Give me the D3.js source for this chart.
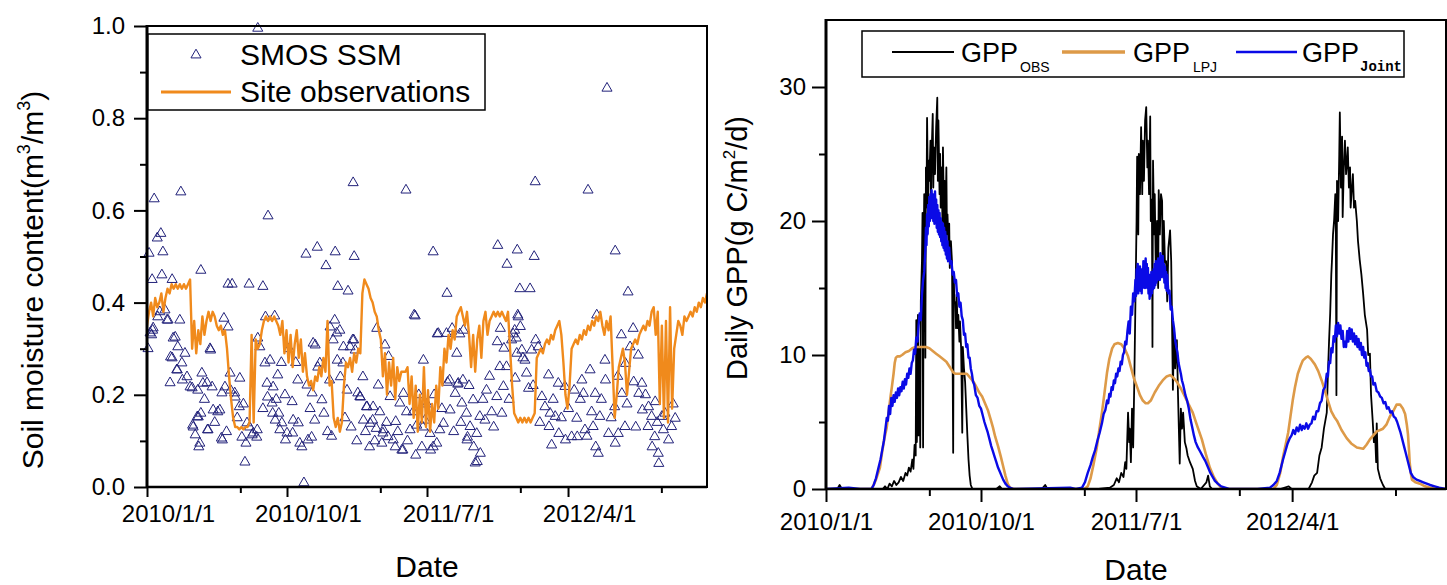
<!DOCTYPE html>
<html>
<head>
<meta charset="utf-8">
<script src="https://cdn.jsdelivr.net/npm/d3@7/dist/d3.min.js"></script>
<style>
	body { margin: 0; background: #fff; }
	text { font-family: "Liberation Sans", Arial, sans-serif; fill: #000; }
</style>
</head>
<body>
<svg id="chart" width="1447" height="585"></svg>
<script>

// ---- data (days are counted from 2010/1/1) ----
var startDate = new Date(2010, 0, 1);
var spanDays = 1092;
var tickLabels = [ "2010/1/1", "2010/10/1", "2011/7/1", "2012/4/1" ];
var minorOffsetDays = 182;

// site observations, one value every 4 days
var siteStepDays = 4;
var siteObs = [
	0.35,0.38,0.40,0.37,0.41,0.39,0.40,0.42,0.38,0.41,0.43,
	0.42,0.44,0.43,0.44,0.43,0.44,0.43,0.44,0.43,0.44,0.45,
	0.30,0.36,0.29,0.34,0.31,0.37,0.33,0.36,0.38,0.36,
	0.38,0.37,0.35,0.34,0.35,0.33,0.34,0.30,
	0.24,0.19,0.15,0.13,0.13,0.125,0.13,0.125,0.13,0.13,0.14,
	0.33,0.14,0.32,0.30,0.31,0.34,
	0.36,0.37,0.36,0.37,0.36,0.37,0.36,0.35,0.33,0.36,
	0.29,0.34,0.27,0.33,0.26,0.31,0.34,0.28,0.32,0.25,0.29,0.24,0.22,0.23,
	0.21,0.24,0.23,0.26,0.24,0.28,0.25,0.36,0.22,0.23,
	0.15,0.13,0.15,0.12,0.14,0.22,0.27,0.26,
	0.28,0.25,0.29,0.27,0.30,0.29,0.42,
	0.45,0.44,0.43,0.41,0.40,0.38,0.37,0.34,0.32,
	0.24,0.29,0.20,0.27,0.22,0.28,0.19,0.26,0.23,0.25,0.25,0.25,
	0.26,0.18,0.24,0.15,0.22,0.12,0.20,0.14,0.26,0.13,0.21,0.12,0.18,0.14,
	0.22,0.17,0.26,0.22,0.30,0.27,0.33,0.30,0.34,
	0.32,0.37,0.38,0.39,0.37,0.35,0.38,0.33,0.26,0.33,
	0.25,0.32,0.35,0.28,0.36,0.38,0.33,0.36,0.37,0.38,
	0.37,0.38,0.37,0.38,0.37,0.36,0.38,0.30,0.22,
	0.16,0.15,0.14,0.15,0.14,0.15,0.14,0.15,0.14,0.15,0.16,
	0.28,0.29,0.30,0.29,0.31,0.32,0.31,0.33,0.32,0.34,0.35,0.36,
	0.33,0.27,0.20,0.17,
	0.22,0.30,0.31,0.32,0.31,0.33,0.32,0.34,0.33,0.35,0.34,0.36,0.35,0.37,0.36,0.38,0.35,
	0.33,0.36,0.34,0.37,0.26,0.15,
	0.20,0.26,0.28,0.30,0.27,0.20,0.25,0.30,
	0.31,0.32,0.31,0.33,0.34,0.35,0.34,0.36,0.35,0.38,
	0.39,0.33,0.38,0.18,0.35,0.15,0.36,0.14,0.39,0.17,0.30,0.33,0.36,
	0.35,0.33,0.37,0.36,0.37,0.38,0.37,0.39,0.38,0.40,0.39,0.41,0.40,0.42,0.41
];

// SMOS SSM retrievals [day, value]
var smosSSM = [
	[216,0.995],[14,0.625],[66,0.64],[236,0.588],[402,0.66],[505,0.644],[20,0.54],[27,0.55],[31,0.51],[4,0.507],
	[105,0.47],[310,0.505],[332,0.52],[349,0.48],[367,0.51],[404,0.50],[558,0.51],[585,0.42],[10,0.45],[29,0.46],
	[49,0.45],[158,0.44],[166,0.44],[199,0.44],[226,0.435],[372,0.435],[392,0.425],[897,0.865],[757,0.662],[860,0.644],
	[684,0.524],[722,0.514],[702,0.483],[755,0.50],[913,0.512],[727,0.43],[747,0.43],[938,0.423],[521,0.373],
	[21,0.369],[35,0.384],[41,0.362],[64,0.362],[11,0.34],[6,0.334],[2,0.30],[150,0.366],[158,0.347],[55,0.325],
	[60,0.304],[74,0.29],[49,0.28],[68,0.269],[58,0.254],[78,0.239],[45,0.226],[88,0.215],[107,0.247],[117,0.226],
	[99,0.21],[127,0.217],[123,0.30],[152,0.217],[146,0.204],[172,0.195],[181,0.236],[129,0.167],[138,0.163],[100,0.152],
	[89,0.134],[94,0.113],[101,0.087],[118,0.124],[147,0.102],[191,0.054],[185,0.108],[205,0.113],[215,0.124],[193,0.095],
	[216,0.323],[220,0.304],[230,0.269],[240,0.275],[234,0.225],[246,0.217],[255,0.243],[244,0.182],[257,0.16],[269,0.20],
	[283,0.185],[294,0.232],[312,0.221],[322,0.204],[333,0.26],[328,0.308],[250,0.145],[259,0.124],[270,0.102],[284,0.117],
	[295,0.139],[302,0.087],[314,0.102],[327,0.145],[341,0.189],[357,0.347],[306,0.009],[231,0.369],[249,0.371],
	[523,0.371],[366,0.362],[370,0.334],[376,0.34],[363,0.319],[401,0.319],[396,0.304],[406,0.297],[382,0.269],[377,0.239],
	[390,0.21],[421,0.239],[411,0.204],[448,0.344],[464,0.308],[471,0.283],[451,0.221],[474,0.196],[415,0.196],[428,0.174],
	[441,0.174],[454,0.163],[422,0.145],[435,0.138],[447,0.127],[461,0.124],[470,0.109],[434,0.087],[458,0.095],[484,0.087],
	[497,0.080],[524,0.069],[513,0.124],[506,0.163],[500,0.203],[493,0.182],[485,0.142],[526,0.134],[542,0.145],[552,0.116],
	[565,0.095],[536,0.087],[553,0.080],[571,0.124],[578,0.138],[591,0.167],[601,0.203],[607,0.225],[614,0.182],[623,0.160],
	[636,0.189],[649,0.153],[630,0.131],[643,0.116],[624,0.102],[637,0.087],[650,0.073],[644,0.055],[659,0.145],[672,0.163],
	[682,0.196],[695,0.218],[688,0.261],[701,0.261],[662,0.210],[718,0.236],[721,0.29],[711,0.319],[717,0.34],[683,0.315],
	[696,0.301],[584,0.333],[568,0.333],[539,0.275],[519,0.163],[604,0.29],[617,0.34],
	[877,0.373],[724,0.369],[728,0.348],[720,0.323],[731,0.297],[758,0.319],[763,0.304],[750,0.297],[737,0.275],[740,0.247],
	[744,0.214],[783,0.243],[802,0.225],[815,0.218],[770,0.196],[776,0.174],[786,0.160],[796,0.153],[784,0.131],[803,0.116],
	[816,0.102],[828,0.109],[789,0.091],[838,0.149],[851,0.203],[848,0.232],[864,0.254],[893,0.275],[894,0.232],[874,0.203],
	[867,0.163],[883,0.153],[854,0.124],[870,0.131],[839,0.109],[880,0.073],[875,0.087],[900,0.116],[913,0.095],[919,0.116],
	[932,0.131],[912,0.174],[926,0.203],[933,0.268],[925,0.33],[948,0.344],[958,0.286],[942,0.304],[949,0.228],[965,0.225],
	[959,0.203],[966,0.167],[978,0.174],[984,0.153],[991,0.185],[1004,0.153],[977,0.131],[990,0.109],[1007,0.124],[985,0.087],
	[997,0.073],[998,0.051],[1023,0.131],[1030,0.149],[1017,0.102],
	[12,0.345],[9,0.33],[25,0.38],[39,0.362],[51,0.323],[46,0.282],[59,0.254],[69,0.232],[84,0.217],[90,0.13],
	[103,0.095],[119,0.124],[145,0.106],[98,0.152],[109,0.225],[124,0.297],[142,0.167],[162,0.247],[171,0.204],[180,0.174],
	[195,0.139],[207,0.117],[214,0.108],[235,0.195],[245,0.16],[263,0.139],[273,0.117],[285,0.145],[298,0.095],[321,0.108],
	[324,0.312],[337,0.269],[356,0.232],[371,0.275],[383,0.304],[403,0.319],[416,0.195],[429,0.174],[440,0.145],[460,0.117],
	[480,0.102],[499,0.08],[538,0.13],[558,0.087],[590,0.232],[616,0.232],[625,0.108],[640,0.052],
	[566,0.332],[595,0.344],[610,0.332],[586,0.227],[606,0.223],[689,0.344],[723,0.373],[714,0.332],[733,0.28],
	[105,0.16],[112,0.19],[132,0.14],[155,0.12],[163,0.21],[176,0.15],[188,0.18],[200,0.13],[226,0.17],[252,0.19],
	[262,0.27],[277,0.30],[290,0.27],[318,0.17],[345,0.16],[352,0.12],[360,0.11],[386,0.15],[398,0.13],[409,0.10],
	[426,0.12],[444,0.10],[467,0.14],[489,0.12],[508,0.10],[530,0.20],[546,0.18],[560,0.20],[575,0.17],[598,0.12],
	[612,0.14],[628,0.22],[655,0.19],[668,0.24],[676,0.13],[692,0.16],[706,0.19],[753,0.22],[766,0.14],[792,0.19],
	[808,0.15],[822,0.17],[833,0.21],[845,0.19],[858,0.11],[886,0.19],[905,0.15],[918,0.24],[936,0.18],[953,0.13],
	[972,0.20],[995,0.14],[1010,0.16],[1026,0.18]
];

// GPP observed [day, value]
var gppObs = [
	[0,0],[20,0],[24,0.3],[28,0],[100,0],[104,0.2],[108,0],[112,0.4],[116,0.2],[120,0.6],[124,0.3],[128,0.5],
	[132,0.9],[136,0.6],[140,1.2],[143,1.0],[146,1.6],[149,1.3],[152,2.2],[154,1.5],[156,3.3],[158,2.5],[159,12.6],
	[160,3.5],[161,6.0],[162,13.0],[163,4.0],[165,10.5],[166,3.1],[167,14.0],[169,17.0],[170,20.6],[171,3.1],[172,18.0],
	[173,22.0],[174,19.0],[175,9.8],[176,24.0],[177,21.0],[178,27.7],[180,21.0],[181,24.5],[182,23.0],[184,26.0],
	[185,21.5],[186,25.0],[188,28.0],[189,22.5],[190,25.5],[192,23.5],[194,27.0],[196,29.2],[197,23.0],[198,27.5],
	[200,22.0],[201,25.0],[202,21.0],[204,24.0],[205,20.0],[206,25.5],[208,19.5],[209,23.0],[210,18.5],[212,24.0],
	[213,19.0],[214,20.5],[216,18.0],[217,19.8],[218,16.5],[220,18.5],[222,16.9],[224,2.7],[225,16.0],[226,14.0],
	[228,13.9],[229,12.0],[230,14.5],[232,12.0],[233,13.0],[235,11.0],[236,12.5],[238,10.5],[240,4.2],[241,10.6],
	[243,9.0],[245,8.0],[247,6.0],[249,4.0],[251,2.2],[253,1.0],[255,0.3],[258,0],[300,0],[306,0.2],[310,0],
	[380,0],[386,0.3],[390,0],[480,0],[500,0.1],[507,0.3],[512,0.8],[516,0.5],[520,1.2],[524,0.9],[527,2.0],[529,1.5],
	[532,5.7],[534,3.5],[535,4.5],[537,2.0],[539,6.0],[541,3.1],[543,8.0],[545,14.0],[547,20.0],[548,24.8],[550,19.0],
	[551,25.0],[553,22.0],[555,27.0],[557,22.0],[558,26.0],[560,23.0],[562,27.5],[564,28.5],[566,24.0],[567,26.0],
	[569,22.0],[571,27.8],[572,20.0],[574,21.6],[575,10.6],[576,24.5],[578,19.0],[579,22.0],[581,16.0],[583,20.0],
	[585,15.0],[586,22.3],[588,19.0],[590,22.0],[592,21.5],[593,16.0],[595,20.0],[597,16.9],[599,17.0],[601,14.0],
	[603,18.0],[606,19.3],[608,17.0],[609,14.0],[611,7.4],[613,12.0],[615,9.0],[618,11.1],[620,7.0],[623,1.9],
	[625,6.0],[627,4.5],[629,5.7],[632,3.5],[635,3.0],[637,2.5],[641,2.0],[646,1.5],[650,0.6],[653,0.2],[660,0],
	[670,0.5],[673,1.0],[676,0.2],[680,0],[800,0],[815,0.2],[820,0],[850,0],[856,0.5],[860,1.0],[865,1.2],[869,2.5],
	[873,3.1],[877,4.5],[882,5.7],[884,8.6],[886,11.0],[888,13.1],[890,16.0],[891,16.9],[893,19.0],[895,20.1],
	[897,22.0],[898,19.0],[899,7.0],[900,23.0],[902,20.0],[904,25.0],[905,28.1],[907,22.5],[909,26.3],[910,20.3],
	[912,24.0],[914,26.0],[916,23.5],[917,24.0],[919,25.5],[921,22.5],[923,24.0],[924,21.0],[926,22.3],[928,23.5],
	[930,21.0],[932,21.5],[935,20.0],[937,18.5],[940,17.1],[943,16.0],[946,14.6],[949,13.0],[953,11.9],[955,10.0],
	[958,10.1],[960,7.0],[963,5.0],[965,3.5],[967,4.2],[969,2.0],[970,4.9],[972,1.5],[976,0.8],[981,0.3],[985,0],[1092,0]
];

// GPP from LPJ [day, value]
var gppLpj = [
	[0,0],[80,0],[84,0.3],[88,0.7],[92,1.2],[95,1.6],[99,2.8],[103,3.8],[107,4.6],[111,6.0],[114,7.0],[116,7.6],
	[119,8.6],[121,9.4],[123,9.8],[126,9.9],[130,9.9],[134,10.0],[140,10.2],[146,10.3],[152,10.5],[158,10.6],
	[164,10.6],[170,10.6],[176,10.6],[182,10.5],[188,10.3],[194,10.1],[200,9.9],[206,9.7],[212,9.5],[218,9.1],
	[224,8.7],[228,8.6],[232,8.6],[238,8.6],[244,8.6],[248,8.6],[252,8.4],[256,8.2],[260,8.0],[265,7.6],[270,7.2],
	[275,6.9],[280,6.4],[285,5.9],[290,5.2],[294,4.6],[298,3.9],[303,3.2],[308,2.4],[312,1.7],[316,1.0],[320,0.4],
	[324,0.1],[330,0],[455,0],[461,0.2],[466,0.8],[471,1.8],[477,3.1],[481,4.3],[486,5.7],[490,7.0],[495,8.7],
	[499,9.7],[504,10.5],[508,10.8],[514,10.9],[520,10.8],[527,10.4],[532,9.9],[537,9.1],[542,8.3],[548,7.6],
	[553,7.0],[558,6.6],[563,6.4],[567,6.4],[572,6.6],[579,7.2],[586,7.7],[593,8.1],[600,8.4],[606,8.5],[612,8.3],
	[618,8.0],[625,7.5],[632,6.9],[639,6.3],[646,5.7],[653,4.8],[662,3.7],[669,2.6],[676,1.6],[683,0.9],[690,0.4],
	[696,0.1],[700,0],[788,0],[794,0.3],[800,1.2],[805,2.4],[810,3.4],[814,4.2],[818,5.4],[822,6.6],[826,7.6],
	[831,8.6],[836,9.2],[840,9.6],[845,9.8],[849,9.9],[854,9.7],[861,9.3],[867,8.8],[873,8.1],[879,7.3],[884,6.6],
	[890,5.8],[895,5.4],[900,5.1],[908,4.4],[917,3.8],[925,3.4],[935,3.1],[946,3.0],[952,3.3],[958,3.7],[964,4.0],
	[970,4.3],[976,4.4],[981,4.5],[987,4.8],[993,5.4],[999,5.8],[1005,6.3],[1011,6.3],[1016,6.0],[1020,5.6],
	[1023,4.8],[1025,4.1],[1027,2.8],[1028,2.0],[1030,1.2],[1032,0.7],[1038,0.5],[1046,0.4],[1055,0.2],[1064,0.1],
	[1075,0],[1092,0]
];

// GPP from joint assimilation [day, value]
var gppJoint = [
	[0,0],[40,0.1],[60,0],[80,0],[84,0.3],[88,0.8],[92,1.5],[96,2.2],[99,2.9],[102,3.6],[105,4.6],[107,5.3],[109,5.1],
	[111,6.2],[113,5.6],[115,6.8],[117,6.2],[119,7.0],[121,6.5],[123,7.2],[125,6.8],[127,7.5],[129,7.0],[131,7.6],
	[133,7.3],[135,8.0],[137,7.5],[139,8.2],[141,7.8],[143,8.6],[145,8.3],[147,9.0],[149,8.6],[151,9.4],[153,9.6],
	[155,10.4],[157,10.1],[159,11.3],[161,11.0],[163,12.2],[165,13.1],[167,12.6],[169,14.5],[171,15.6],[173,16.2],
	[175,17.8],[176,19.5],[177,18.2],[178,20.5],[179,19.0],[180,21.2],[181,19.6],[182,21.8],[183,20.0],[184,22.0],
	[185,20.2],[186,22.3],[187,20.4],[188,22.0],[189,20.0],[190,21.8],[191,19.8],[192,22.2],[193,20.0],[194,21.6],
	[195,19.5],[196,21.2],[197,19.2],[198,20.8],[199,19.0],[200,20.6],[201,18.8],[202,20.2],[203,18.5],[204,19.9],
	[205,18.2],[206,19.8],[207,18.0],[208,19.5],[209,17.8],[210,19.2],[211,17.5],[212,18.9],[213,17.2],[214,18.5],
	[215,17.0],[217,18.0],[219,16.8],[221,17.0],[223,16.0],[225,16.2],[227,15.4],[229,15.6],[231,14.4],[233,14.6],
	[235,13.6],[237,13.9],[239,12.9],[241,12.6],[243,11.5],[245,11.6],[247,10.6],[249,10.8],[251,9.8],[253,9.8],
	[255,9.0],[257,8.6],[259,8.0],[261,7.8],[264,7.0],[267,6.8],[270,6.2],[273,6.0],[276,5.5],[279,5.0],[282,4.6],
	[285,4.2],[288,3.7],[291,3.2],[294,2.8],[297,2.4],[300,2.0],[303,1.6],[306,1.3],[309,1.0],[312,0.7],[316,0.4],
	[320,0.2],[324,0.1],[330,0],[430,0.1],[440,0],[451,0.1],[456,0.5],[461,1.2],[466,1.8],[470,2.4],[474,2.9],
	[478,3.6],[482,4.2],[486,4.9],[489,5.6],[492,5.9],[495,6.6],[497,6.4],[499,7.1],[501,6.9],[503,7.6],[505,7.4],
	[507,8.1],[509,7.9],[511,8.6],[513,8.4],[515,9.0],[517,8.8],[519,9.5],[521,9.3],[523,10.0],[525,10.2],[527,11.0],
	[529,10.8],[531,11.8],[533,12.5],[535,11.6],[537,13.6],[539,13.0],[541,14.6],[543,14.0],[545,15.6],[546,14.4],
	[547,16.4],[548,15.0],[549,16.8],[550,14.6],[551,16.2],[552,15.0],[553,16.6],[554,14.8],[555,16.0],[556,14.6],
	[557,16.4],[558,15.0],[559,17.0],[560,15.2],[561,16.6],[562,15.0],[563,17.2],[564,15.4],[565,16.8],[566,15.0],
	[567,16.5],[568,14.6],[569,16.0],[570,14.2],[571,15.8],[572,14.4],[573,16.2],[574,14.6],[575,16.0],[576,14.9],
	[577,16.4],[578,15.0],[579,16.8],[580,15.2],[581,17.0],[582,15.4],[583,16.8],[584,15.6],[585,17.2],[586,15.8],
	[587,16.6],[588,15.6],[589,17.6],[590,15.8],[591,17.0],[592,16.0],[593,17.4],[594,15.8],[595,16.8],[596,15.4],
	[597,16.6],[598,15.0],[599,16.2],[600,14.8],[601,16.0],[603,14.6],[605,14.8],[607,13.4],[609,13.6],[611,12.6],
	[613,12.0],[615,11.1],[617,10.6],[619,10.2],[621,9.4],[623,9.0],[625,8.6],[627,8.1],[629,7.8],[631,7.4],[633,7.0],
	[636,6.6],[639,6.0],[642,5.2],[645,4.6],[648,4.0],[651,3.5],[655,3.1],[659,2.8],[664,2.4],[668,2.1],[673,1.6],
	[677,1.2],[681,0.9],[685,0.6],[690,0.4],[696,0.2],[703,0.1],[710,0],[760,0],[782,0.1],[788,0.3],[794,0.6],
	[799,1.2],[805,2.2],[809,2.8],[813,3.4],[817,3.8],[820,4.0],[823,4.4],[826,4.1],[829,4.6],[832,4.3],[835,4.8],
	[838,4.4],[840,4.7],[843,4.5],[846,4.9],[849,4.5],[852,4.8],[855,4.9],[858,5.4],[861,5.2],[864,5.8],[867,5.8],
	[870,6.4],[873,6.6],[876,7.4],[879,7.6],[882,8.6],[884,8.4],[886,9.5],[888,9.4],[890,10.5],[892,10.2],[894,11.4],
	[896,11.0],[898,12.2],[900,11.4],[902,12.4],[904,11.6],[906,12.2],[908,11.2],[910,11.8],[912,10.6],[914,11.0],
	[916,10.6],[918,11.8],[920,11.0],[922,12.0],[924,11.2],[926,11.9],[928,11.0],[930,11.6],[932,10.8],[934,11.4],
	[936,10.6],[938,11.2],[940,10.4],[942,10.9],[944,10.0],[946,10.6],[948,9.8],[950,10.2],[952,9.2],[954,9.4],
	[956,8.8],[958,8.9],[960,8.4],[962,8.4],[964,7.8],[967,7.9],[970,7.3],[973,7.2],[976,6.9],[979,6.8],[982,6.4],
	[985,6.5],[988,6.0],[991,6.1],[994,5.7],[997,5.8],[1000,5.4],[1003,5.3],[1006,5.0],[1009,4.6],[1012,4.2],
	[1015,3.7],[1018,3.2],[1021,2.7],[1024,2.2],[1027,1.7],[1030,1.2],[1034,0.9],[1040,0.7],[1046,0.6],[1052,0.5],
	[1058,0.4],[1064,0.3],[1072,0.2],[1080,0.1],[1092,0]
];

// ---- drawing ----
var svg = d3.select("#chart");
var parseTick = d3.timeParse("%Y/%m/%d");
var dayToDate = function(d) {
	return d3.timeDay.offset(startDate, d);
};
var majorDates = tickLabels.map(function(t) {
	return parseTick(t);
});
var minorDates = majorDates.map(function(t) {
	return d3.timeDay.offset(t, minorOffsetDays);
});

var drawFrame = function(g, x0, y0, x1, y1) {
	g.append("rect").attr("x", x0).attr("y", y0).attr("width", x1 - x0).attr("height", y1 - y0)//
	.attr("fill", "none").attr("stroke", "#000").attr("stroke-width", 2);
	g.append("line").attr("x1", x0).attr("x2", x0).attr("y1", y0 - 1).attr("y2", y1 + 1)//
	.attr("stroke", "#000").attr("stroke-width", 3);
	g.append("line").attr("x1", x0).attr("x2", x1).attr("y1", y1).attr("y2", y1)//
	.attr("stroke", "#000").attr("stroke-width", 2.5);
};

var styleAxis = function(g, size) {
	g.select(".domain").remove();
	g.attr("font-size", size).attr("font-family", "Liberation Sans, Arial, sans-serif");
	g.selectAll(".tick line").attr("stroke-width", 2);
};

// ---------- left panel: soil moisture ----------
var L = { left: 147, right: 707, top: 26, bottom: 487 };
var xL = d3.scaleTime().domain([ startDate, dayToDate(spanDays) ]).range([ L.left, L.right ]);
var yL = d3.scaleLinear().domain([ 0, 1 ]).range([ L.bottom, L.top ]);

var left = svg.append("g");
left.append("clipPath").attr("id", "clipL").append("rect")//
.attr("x", L.left).attr("y", L.top).attr("width", L.right - L.left).attr("height", L.bottom - L.top);

var tri = d3.symbol().type(d3.symbolTriangle).size(44);
left.append("g").selectAll("path").data(smosSSM).enter().append("path")//
.attr("d", tri)//
.attr("transform", function(d) {
	return "translate(" + xL(dayToDate(d[0])) + "," + yL(d[1]) + ")";
})//
.attr("fill", "none").attr("stroke", "#22227a").attr("stroke-width", 1);

var siteLine = d3.line()//
.x(function(v, i) {
	return xL(dayToDate(i * siteStepDays));
})//
.y(function(v) {
	return yL(v);
});
left.append("path").datum(siteObs).attr("d", siteLine).attr("clip-path", "url(#clipL)")//
.attr("fill", "none").attr("stroke", "#f08a1c").attr("stroke-width", 2.4).attr("stroke-linejoin", "round");

var gxL = left.append("g").attr("transform", "translate(0," + L.bottom + ")")//
.call(d3.axisBottom(xL).tickValues(majorDates).tickFormat(function(d, i) {
	return tickLabels[i];
}).tickSize(10).tickPadding(8));
styleAxis(gxL, 24);
gxL.selectAll(".tick text").attr("x", 21);
var gxLm = left.append("g").attr("transform", "translate(0," + L.bottom + ")")//
.call(d3.axisBottom(xL).tickValues(minorDates).tickFormat("").tickSize(6));
styleAxis(gxLm, 24);

var gyL = left.append("g").attr("transform", "translate(" + L.left + ",0)")//
.call(d3.axisLeft(yL).tickValues([ 0, 0.2, 0.4, 0.6, 0.8, 1.0 ]).tickFormat(d3.format(".1f")).tickSize(13).tickPadding(9));
styleAxis(gyL, 24);
var gyLm = left.append("g").attr("transform", "translate(" + L.left + ",0)")//
.call(d3.axisLeft(yL).tickValues([ 0.1, 0.3, 0.5, 0.7, 0.9 ]).tickFormat("").tickSize(7));
styleAxis(gyLm, 24);

drawFrame(left, L.left, L.top, L.right, L.bottom);

// legend
var legL = left.append("g");
legL.append("rect").attr("x", 148).attr("y", 34).attr("width", 337).attr("height", 76)//
.attr("fill", "#fff").attr("stroke", "#000").attr("stroke-width", 1.5);
legL.append("path").attr("d", tri).attr("transform", "translate(196,55)")//
.attr("fill", "none").attr("stroke", "#22227a").attr("stroke-width", 1);
legL.append("text").attr("x", 240).attr("y", 65).attr("font-size", 30).text("SMOS SSM");
legL.append("line").attr("x1", 161).attr("x2", 231).attr("y1", 92).attr("y2", 92)//
.attr("stroke", "#f08a1c").attr("stroke-width", 3);
legL.append("text").attr("x", 240).attr("y", 102).attr("font-size", 30).text("Site observations");

// titles
var ytL = left.append("text").attr("transform", "translate(43,280) rotate(-90)")//
.attr("text-anchor", "middle").attr("font-size", 30);
ytL.append("tspan").text("Soil moisture content(m");
ytL.append("tspan").attr("font-size", 18).attr("dy", -13).text("3");
ytL.append("tspan").attr("dy", 13).text("/m");
ytL.append("tspan").attr("font-size", 18).attr("dy", -13).text("3");
ytL.append("tspan").attr("dy", 13).text(")");
left.append("text").attr("x", 427).attr("y", 577).attr("text-anchor", "middle").attr("font-size", 30).text("Date");

// ---------- right panel: GPP ----------
var R = { left: 826, right: 1446, top: 20, bottom: 489 };
var xR = d3.scaleTime().domain([ startDate, dayToDate(spanDays) ]).range([ R.left, R.right ]);
var yR = d3.scaleLinear().domain([ 0, 35 ]).range([ R.bottom, R.top ]);

var right = svg.append("g");
right.append("clipPath").attr("id", "clipR").append("rect")//
.attr("x", R.left).attr("y", R.top).attr("width", R.right - R.left).attr("height", R.bottom - R.top);

var gppLine = d3.line()//
.x(function(d) {
	return xR(dayToDate(d[0]));
})//
.y(function(d) {
	return yR(d[1]);
});
var series = [
	{ data: gppObs, color: "#000", width: 1.8 },
	{ data: gppLpj, color: "#dd9a48", width: 2.6 },
	{ data: gppJoint, color: "#0a0ae6", width: 2.4 }
];
right.append("g").attr("clip-path", "url(#clipR)").selectAll("path").data(series).enter().append("path")//
.attr("d", function(s) {
	return gppLine(s.data);
})//
.attr("fill", "none").attr("stroke", function(s) {
	return s.color;
}).attr("stroke-width", function(s) {
	return s.width;
}).attr("stroke-linejoin", "round");

var gxR = right.append("g").attr("transform", "translate(0," + R.bottom + ")")//
.call(d3.axisBottom(xR).tickValues(majorDates).tickFormat(function(d, i) {
	return tickLabels[i];
}).tickSize(13).tickPadding(11));
styleAxis(gxR, 24);
var gxRm = right.append("g").attr("transform", "translate(0," + R.bottom + ")")//
.call(d3.axisBottom(xR).tickValues(minorDates).tickFormat("").tickSize(7));
styleAxis(gxRm, 24);

var gyR = right.append("g").attr("transform", "translate(" + R.left + ",0)")//
.call(d3.axisLeft(yR).tickValues([ 0, 10, 20, 30 ]).tickSize(14).tickPadding(6));
styleAxis(gyR, 24);
var gyRm = right.append("g").attr("transform", "translate(" + R.left + ",0)")//
.call(d3.axisLeft(yR).tickValues([ 5, 15, 25 ]).tickFormat("").tickSize(7));
styleAxis(gyRm, 24);

drawFrame(right, R.left, R.top, R.right, R.bottom);

// legend
var legR = right.append("g");
legR.append("rect").attr("x", 862).attr("y", 31).attr("width", 542).attr("height", 46)//
.attr("fill", "#fff").attr("stroke", "#000").attr("stroke-width", 1.5);
var legItems = [
	{ x1: 892, x2: 954, tx: 961, sx: 1020, sub: "OBS", color: "#000", width: 2 },
	{ x1: 1062, x2: 1125, tx: 1133, sx: 1193, sub: "LPJ", color: "#dd9a48", width: 3.5 },
	{ x1: 1236, x2: 1297, tx: 1302, sx: 1360, sub: "Joint", color: "#0a0ae6", width: 2.5 }
];
legItems.forEach(function(it) {
	legR.append("line").attr("x1", it.x1).attr("x2", it.x2).attr("y1", 52).attr("y2", 52)//
	.attr("stroke", it.color).attr("stroke-width", it.width);
	legR.append("text").attr("x", it.tx).attr("y", 62).attr("font-size", 27).text("GPP");
	var sub = legR.append("text").attr("x", it.sx).attr("y", it.sub == "Joint" ? 71 : 72).text(it.sub);
	if (it.sub == "Joint") {
		sub.attr("font-size", 14).attr("font-weight", "bold").style("font-family", "Liberation Mono, Courier New, monospace");
	} else {
		sub.attr("font-size", 14);
	}
});

// titles
var ytR = right.append("text").attr("transform", "translate(747,248) rotate(-90)")//
.attr("text-anchor", "middle").attr("font-size", 29);
ytR.append("tspan").text("Daily GPP(g C/m");
ytR.append("tspan").attr("font-size", 17).attr("dy", -12).text("2");
ytR.append("tspan").attr("dy", 12).text("/d)");
right.append("text").attr("x", 1136).attr("y", 580).attr("text-anchor", "middle").attr("font-size", 30).text("Date");

</script>
</body>
</html>
